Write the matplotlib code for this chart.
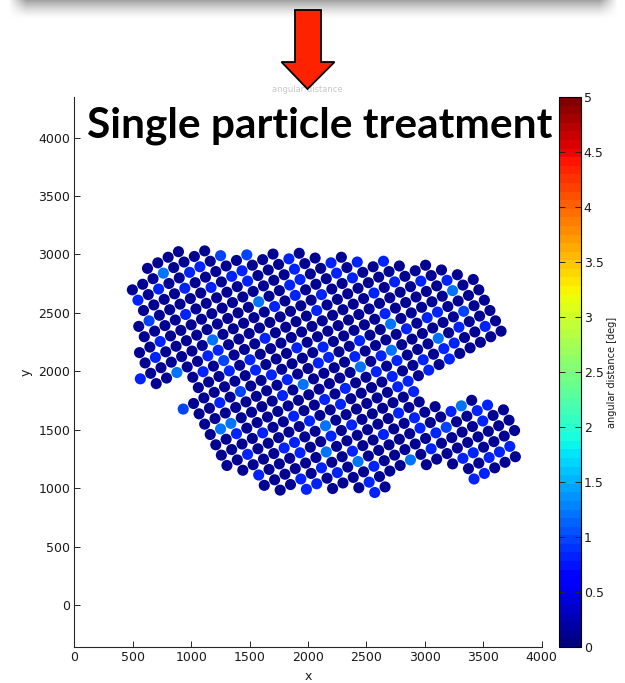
import numpy as np
import matplotlib.pyplot as plt
from matplotlib.patches import Polygon

# particle map on a square lattice: one string per lattice row j,
# each character is one particle (colour code), '.' = no particle
row_j = list(range(-1, 29))
row_first_i = [2, 0, 0, 0, -1, -1, -2, -2, -3, -2,
               1, 1, -1, 0, 0, 0, 0, 0, 0, 1,
               2, 2, 3, 5, 7, 9, 10, 17, 18, 18]
row_codes = [
    "0000",
    "00030000",
    "101001102",
    "00001000002",
    "02000001011000",
    "0000100000100010",
    "001000000000000100",
    "01000000000300110010",
    "1000000300000101000101",
    "00300110000000001001001",
    "010200010000100000000",
    "00010100000000000101000",
    "20000001000100000000000100",
    "00102001000010000010000010",
    "000000001001100100300000300",
    "033000010300001000010110000",
    "001000000000003013000000200",
    "000010010010100101000301000",
    "001000001001000010010110010",
    "00001100300000011010100000",
    "1000100101000001",
    "0000003000000100",
    "0010100100100100",
    "11010300000100130",
    "0000100000120011",
    "010003010000100",
    "10...000000000",
    "0110000",
    "00111",
    "11000",
]
# angular distance [deg] for each colour code
code_value = {"0": 0.1, "1": 0.8, "2": 0.95, "3": 1.2}

# lattice geometry (data units)
origin_x, origin_y = 497.0, 2697.0
pitch = 100.4
angle = np.deg2rad(28.3)

x_ticks = list(range(0, 4001, 500))
y_ticks = list(range(0, 4001, 500))
c_ticks = [0, 0.5, 1, 1.5, 2, 2.5, 3, 3.5, 4, 4.5, 5]
c_labels = ["0", "0.5", "1", "1.5", "2", "2.5", "3", "3.5", "4", "4.5", "5"]

ii, jj, vals = [], [], []
for j, i0, codes in zip(row_j, row_first_i, row_codes):
    for k, ch in enumerate(codes):
        if ch == ".":
            continue
        ii.append(i0 + k)
        jj.append(j)
        vals.append(code_value[ch])
ii = np.array(ii)
jj = np.array(jj)
px = origin_x + pitch * (ii * np.cos(angle) + jj * np.sin(angle))
py = origin_y + pitch * (ii * np.sin(angle) - jj * np.cos(angle))

W, H = 625, 683
fig = plt.figure(figsize=(W / 100, H / 100), dpi=100)
cmap = plt.get_cmap("jet", 64)
ink = "#262626"

ax = fig.add_axes([74.3 / W, (H - 647) / H, 467.4 / W, 550 / H])
ax.scatter(px, py, c=vals, cmap=cmap, vmin=0, vmax=5, s=64, linewidths=0)
ax.set_xlim(0, 4000)
ax.set_ylim(-359, 4347)
ax.set_xticks(x_ticks)
ax.set_yticks(y_ticks)
for side in ["top", "right"]:
    ax.spines[side].set_visible(False)
for side in ["left", "bottom"]:
    ax.spines[side].set_color(ink)
    ax.spines[side].set_linewidth(0.8)
ax.tick_params(direction="in", length=4, width=0.7, color=ink,
               labelsize=9, labelcolor="#1a1a1a", pad=3)
ax.set_xlabel("x", fontsize=9, color="#1a1a1a", labelpad=4)
ax.set_ylabel("y", fontsize=9, color="#1a1a1a", labelpad=4)

cax = fig.add_axes([559 / W, (H - 647) / H, 22 / W, 550 / H])
sm = plt.cm.ScalarMappable(norm=plt.Normalize(0, 5), cmap=cmap)
cb = fig.colorbar(sm, cax=cax, ticks=c_ticks)
cb.ax.set_yticklabels(c_labels)
cb.outline.set_edgecolor("black")
cb.outline.set_linewidth(0.8)
cax.tick_params(direction="in", length=4, width=0.7, left=True, right=True,
                labelsize=9, labelcolor="#1a1a1a", pad=2, color=ink)
cb.set_label("angular distance [deg]", fontsize=7, color="#1a1a1a", labelpad=2)

# overlay in pixel coordinates for the slide decorations
ov = fig.add_axes([0, 0, 1, 1])
ov.set_xlim(0, W)
ov.set_ylim(H, 0)
ov.axis("off")

# shadow band at the top
bh, bw = 20, 610
shade = np.zeros((bh, bw, 4))
shade[..., :3] = 0.45
fade_v = np.linspace(0.75, 0.0, bh) ** 1.5
fade_h = np.clip(np.minimum(np.arange(bw), np.arange(bw)[::-1]) / 18.0, 0, 1)
shade[..., 3] = fade_v[:, None] * fade_h[None, :]
ov.imshow(shade, extent=[8, 8 + bw, bh, 0], aspect="auto", zorder=1)

ov.text(307, 89, "angular distance", fontsize=6, color="#c8c8c8",
        ha="center", va="center", zorder=2)

arrow = Polygon([(295, 10), (321, 10), (321, 62), (334.5, 62), (307.5, 89),
                 (281.5, 62), (295, 62)], closed=True,
                facecolor="#ff2200", edgecolor="black", linewidth=1.3, zorder=3)
ov.add_patch(arrow)

ov.text(320, 126, "Single particle treatment", fontsize=30.5, fontweight="bold",
        family="Lato", color="black", ha="center", va="center", zorder=4)

fig.savefig("out.png", dpi=100)
